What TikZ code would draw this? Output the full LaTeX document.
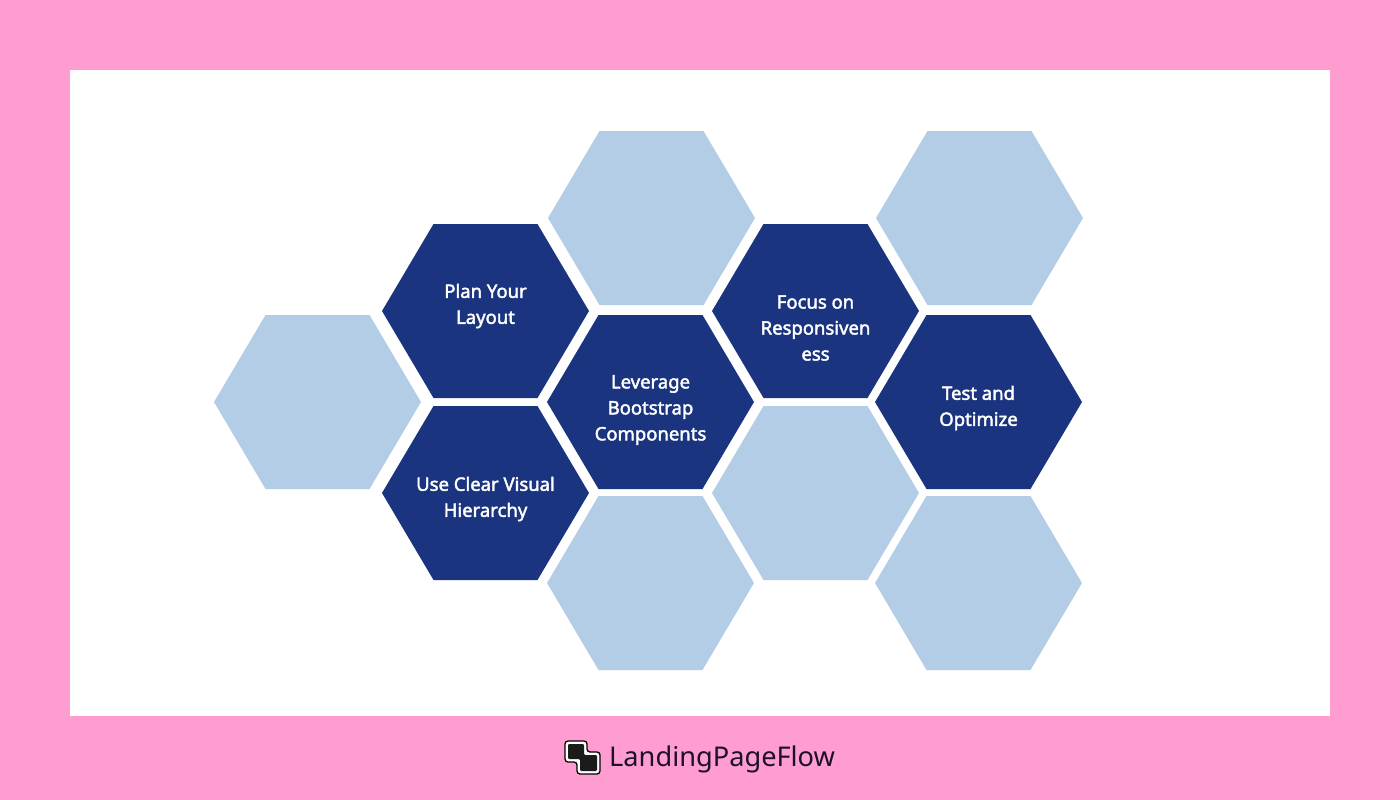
\documentclass[tikz,border=0pt]{standalone}
\usepackage{fontspec}
\newfontfamily\hexfont{Noto Sans}[FakeBold=2.2]
\newfontfamily\logofont{Noto Sans}
\definecolor{pinkbg}{HTML}{FF9DD1}
\definecolor{hexlight}{HTML}{B4CDE6}
\definecolor{hexdark}{HTML}{1A3480}
\definecolor{logoink}{HTML}{1C1126}
\definecolor{logofill}{HTML}{1B1B1B}
\tikzset{
  hexlabel/.style={text=white,align=center,font=\hexfont\fontsize{18.5}{26}\selectfont,inner sep=0pt},
  logotext/.style={text=logoink,anchor=west,font=\logofont\fontsize{27.2}{30}\selectfont,inner sep=0pt},
}
\newcommand{\hexa}[3]{\fill[#3] (#1-103.5,#2) -- (#1-52,#2-87) -- (#1+52,#2-87) -- (#1+103.5,#2) -- (#1+52,#2+87) -- (#1-52,#2+87) -- cycle;}
\begin{document}
\begin{tikzpicture}[x=1pt,y=-1pt]
\useasboundingbox (0,0) rectangle (1400,800);
\fill[pinkbg] (0,0) rectangle (1400,800);
\fill[white] (70,70) rectangle (1330,716);
\hexa{317.5}{402}{hexlight}
\hexa{651.5}{218}{hexlight}
\hexa{979.5}{218}{hexlight}
\hexa{650.5}{583}{hexlight}
\hexa{815.5}{493}{hexlight}
\hexa{978.5}{583}{hexlight}
\hexa{485.5}{311}{hexdark}
\hexa{485.5}{493}{hexdark}
\hexa{650.5}{402}{hexdark}
\hexa{815.5}{311}{hexdark}
\hexa{978.5}{402}{hexdark}
\node[hexlabel] (plan) at (485.5,306) {Plan Your\\Layout};
\node[hexlabel] (use) at (485.5,499) {Use Clear Visual\\Hierarchy};
\node[hexlabel] (lev) at (650.5,410) {Leverage\\Bootstrap\\Components};
\node[hexlabel] (focus) at (815.5,328) {Focus on\\Responsiven\\ess};
\node[hexlabel] (test) at (978.5,408) {Test and\\Optimize};
% logo
\draw[black,line width=1.3pt,fill=white,rounded corners=3pt] (565,741) -- (587,741) -- (587,752) -- (600,752) -- (600,774) -- (577,774) -- (577,762) -- (565,762) -- cycle;
\fill[logofill,rounded corners=1.2pt] (568,744) -- (584,744) -- (584,755) -- (597,755) -- (597,771) -- (580,771) -- (580,759) -- (568,759) -- cycle;
\node[logotext] (brand) at (609,759) {LandingPageFlow};
\end{tikzpicture}
\end{document}
